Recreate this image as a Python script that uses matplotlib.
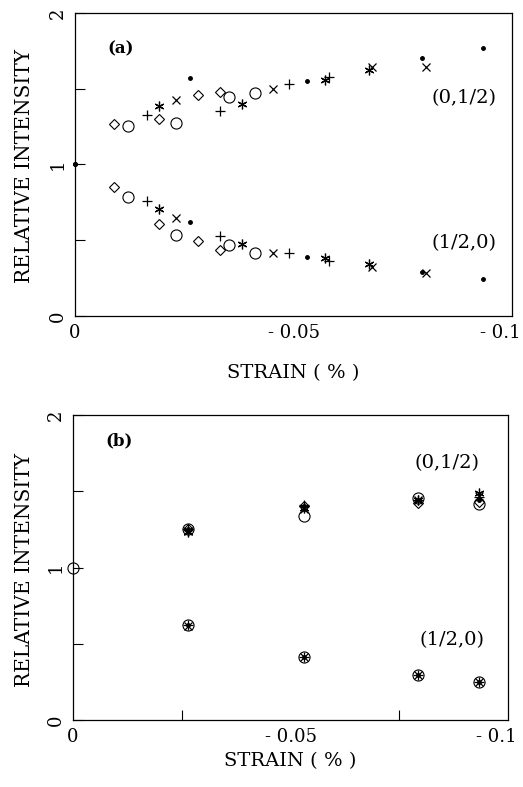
import matplotlib.pyplot as plt
import numpy as np
from matplotlib.ticker import FixedLocator

plt.rcParams['font.family'] = ['DejaVu Serif']

# ---- panel (a) data: strain (negative %) and relative intensity per marker type
a_dot_x = [0.0, 0.0263, 0.0532, 0.0793, 0.0933]
a_dot_up = [1.0, 1.569, 1.551, 1.701, 1.767]
a_dot_lo = [1.0, 0.618, 0.387, 0.288, 0.244]

a_plus_x = [0.0164, 0.0332, 0.0490, 0.0581]
a_plus_up = [1.327, 1.353, 1.529, 1.575]
a_plus_lo = [0.759, 0.528, 0.418, 0.363]

a_ast_x = [0.0192, 0.0381, 0.0572, 0.0672]
a_ast_up = [1.386, 1.401, 1.558, 1.624]
a_ast_lo = [0.704, 0.475, 0.381, 0.341]

a_x_x = [0.0231, 0.0452, 0.0679, 0.0803]
a_x_up = [1.426, 1.498, 1.646, 1.646]
a_x_lo = [0.649, 0.418, 0.326, 0.286]

a_dia_x = [0.0090, 0.0192, 0.0282, 0.0332]
a_dia_up = [1.267, 1.300, 1.459, 1.479]
a_dia_lo = [0.849, 0.607, 0.497, 0.436]

a_circ_x = [0.0122, 0.0231, 0.0352, 0.0412]
a_circ_up = [1.256, 1.276, 1.443, 1.470]
a_circ_lo = [0.783, 0.535, 0.469, 0.414]

# ---- panel (b) data
b_x = [0.0264, 0.0530, 0.0793, 0.0933]
b_circ_up = [1.25, 1.337, 1.455, 1.415]
b_dia_up = [1.25, 1.400, 1.425, 1.430]
b_plus_up = [1.25, 1.410, 1.440, 1.460]
b_ast_up = [1.23, 1.390, 1.440, 1.490]
b_x_up = [1.24, 1.385, 1.440, 1.470]
b_dot_up = [1.25, 1.400, 1.440, 1.440]
b_lo = [0.620, 0.412, 0.296, 0.252]
b_lo_x = [0.618, 0.410, 0.292, 0.252]

xtick_vals = [0, -0.05, -0.1]
xtick_text = ["0", "- 0.05", ""]   # last label drawn by hand, shifted left
last_xtick = "- 0.1"

ast = (6, 2, 0)
styles = {
    "dot": dict(marker="o", ms=2.5, mfc="k", mec="k"),
    "plus": dict(marker="+", ms=7, mec="k", mew=0.9),
    "ast": dict(marker=ast, ms=7, mec="k", mew=0.9),
    "x": dict(marker="x", ms=6, mec="k", mew=0.9),
    "dia": dict(marker="D", ms=5, mfc="none", mec="k", mew=0.8),
    "circ": dict(marker="o", ms=8, mfc="none", mec="k", mew=0.8),
}


def neg(v):
    return -np.array(v)


def style_axes(ax, xlabelpad):
    ax.set_xlim(0, -0.1)
    ax.set_ylim(0, 2)
    ax.set_xticks(xtick_vals)
    ax.set_xticklabels(xtick_text, fontsize=13)
    ax.annotate(last_xtick, xy=(1, 0), xycoords="axes fraction", xytext=(6, -6),
                textcoords="offset points", ha="right", va="top", fontsize=13)
    ax.set_yticks([0, 1, 2])
    ax.set_yticklabels(["0", "1", "2"], fontsize=13, rotation=90, va="center")
    ax.yaxis.set_minor_locator(FixedLocator([0.5, 1.5]))
    ax.tick_params(direction="in", length=7, width=0.8, pad=6)
    ax.tick_params(axis="y", which="minor", direction="in", length=7, width=0.8)
    ax.tick_params(axis="x", length=0, pad=6)
    ax.xaxis.set_minor_locator(FixedLocator([-0.05]))
    ax.tick_params(axis="x", which="minor", direction="in", length=7, width=0.8)
    for s in ax.spines.values():
        s.set_linewidth(0.9)
    ax.set_xlabel("STRAIN ( % )", fontsize=14, labelpad=xlabelpad)


fig = plt.figure(figsize=(5.23, 7.87), dpi=100)

# ---- (a)
ax1 = fig.add_axes([0.1434, 0.5985, 0.8356, 0.385])
for key, xs, up, lo in [("dot", a_dot_x, a_dot_up, a_dot_lo),
                        ("plus", a_plus_x, a_plus_up, a_plus_lo),
                        ("ast", a_ast_x, a_ast_up, a_ast_lo),
                        ("x", a_x_x, a_x_up, a_x_lo),
                        ("dia", a_dia_x, a_dia_up, a_dia_lo),
                        ("circ", a_circ_x, a_circ_up, a_circ_lo)]:
    ax1.plot(neg(xs), up, ls="none", clip_on=False, **styles[key])
    ax1.plot(neg(xs), lo, ls="none", clip_on=False, **styles[key])
style_axes(ax1, 16)
ax1.text(0.075, 0.88, "(a)", transform=ax1.transAxes, fontsize=12, fontweight="bold", va="center")
ax1.text(0.965, 0.72, "(0,1/2)", transform=ax1.transAxes, fontsize=14, ha="right", va="center")
ax1.text(0.965, 0.24, "(1/2,0)", transform=ax1.transAxes, fontsize=14, ha="right", va="center")
fig.text(25 / 523, 1 - 166 / 787, "RELATIVE INTENSITY", rotation=90, ha="center", va="center", fontsize=14.5)

# ---- (b)
ax2 = fig.add_axes([0.1396, 0.0851, 0.8317, 0.3876])
ax2.plot([0], [1.0], ls="none", clip_on=False, **styles["circ"])
for key, up in [("circ", b_circ_up), ("dia", b_dia_up), ("plus", b_plus_up),
                ("ast", b_ast_up), ("x", b_x_up), ("dot", b_dot_up)]:
    ax2.plot(neg(b_x), up, ls="none", **styles[key])
for key in ["circ", "plus", "x", "dot"]:
    ax2.plot(neg(b_x), b_lo if key != "x" else b_lo_x, ls="none", **styles[key])
style_axes(ax2, 4)
ax2.xaxis.set_minor_locator(FixedLocator([-0.025, -0.05, -0.075]))
ax2.text(0.075, 0.915, "(b)", transform=ax2.transAxes, fontsize=12, fontweight="bold", va="center")
ax2.text(0.935, 0.843, "(0,1/2)", transform=ax2.transAxes, fontsize=14, ha="right", va="center")
ax2.text(0.947, 0.262, "(1/2,0)", transform=ax2.transAxes, fontsize=14, ha="right", va="center")
fig.text(25 / 523, 1 - 570 / 787, "RELATIVE INTENSITY", rotation=90, ha="center", va="center", fontsize=14.5)

fig.savefig("out.png", dpi=100)
